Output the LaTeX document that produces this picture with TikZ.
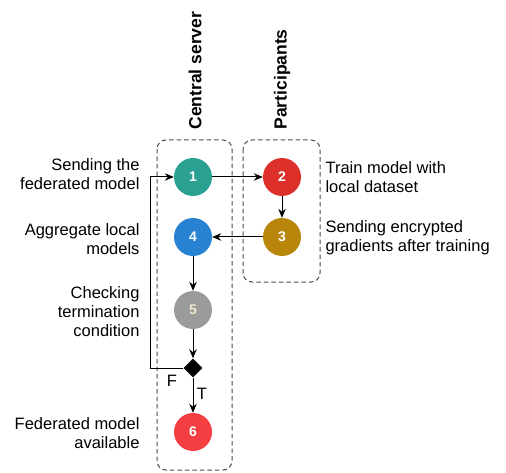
\documentclass[tikz,border=0pt]{standalone}
\usepackage{fontspec}
\setmainfont{Liberation Sans}
\usetikzlibrary{arrows.meta,shapes.geometric}

\definecolor{stepteal}{RGB}{42,160,146}
\definecolor{stepred}{RGB}{221,48,42}
\definecolor{stepgold}{RGB}{184,134,11}
\definecolor{stepblue}{RGB}{40,130,210}
\definecolor{stepgray}{RGB}{155,155,155}
\definecolor{stepbright}{RGB}{245,62,66}

\tikzset{
  stepnode/.style={circle, minimum size=38pt, inner sep=0pt, text=white,
    font=\fontsize{14}{14}\selectfont\bfseries},
  groupbox/.style={dash pattern=on 4.5pt off 3pt, rounded corners=9pt, line width=1pt, black!70},
  flow/.style={line width=1pt, -{Stealth[length=9pt,width=7.5pt]}},
  desc/.style={align=right, font=\fontsize{16.5}{19}\selectfont},
  descr/.style={align=left, font=\fontsize{16.5}{19}\selectfont},
  title/.style={rotate=90, anchor=west, font=\fontsize{17.5}{18}\selectfont\bfseries}
}

\begin{document}
\begin{tikzpicture}[x=1pt, y=-1pt]

    \useasboundingbox (0,0) rectangle (506,473);

    % Draw the two groups
    \draw[groupbox] (157,140) rectangle (232,470);
    \draw[groupbox] (243,140) rectangle (320,282);
    \node[title] (CS) at (195,133) {Central server};
    \node[title] (PA) at (282,133) {Participants};

    % Add the steps
    \node[stepnode, fill=stepteal] (n1) at (193,177) {1};
    \node[stepnode, fill=stepred] (n2) at (282,177) {2};
    \node[stepnode, fill=stepgold] (n3) at (282,237) {3};
    \node[stepnode, fill=stepblue] (n4) at (193,237) {4};
    \node[stepnode, fill=stepgray, text={rgb,255:red,240;green,232;blue,205}] (n5) at (193,310) {5};
    \node[diamond, fill=black, minimum size=19pt, inner sep=0pt] (dec) at (193,368) {};
    \node[stepnode, fill=stepbright] (n6) at (193,432) {6};
    \coordinate (back) at (150,368);

    % Connect the steps
    \draw[flow] (n1) -- (n2);
    \draw[flow] (n2) -- (n3);
    \draw[flow] (n3) -- (n4);
    \draw[flow] (n4) -- (n5);
    \draw[flow] (n5) -- (dec);
    \draw[flow] (dec) -- (n6) node[pos=0.45, right, font=\fontsize{16.5}{17}\selectfont] (T) {T};
    \draw[flow] (dec.west) -- (back) |- (n1.west);
    \node[font=\fontsize{16.5}{17}\selectfont] (F) at (172,381) {F};

    % Describe the steps
    \node[desc, anchor=east] (d1) at (143,174) {Sending the\\federated model};
    \node[desc, anchor=east] (d4) at (143,239) {Aggregate local\\models};
    \node[desc, anchor=east] (d5) at (143,312) {Checking\\termination\\condition};
    \node[desc, anchor=east] (d6) at (143,433) {Federated model\\available};
    \node[descr, anchor=west] (d2) at (322,177) {Train model with\\local dataset};
    \node[descr, anchor=west] (d3) at (322,238) {Sending encrypted\\gradients after training};

\end{tikzpicture}
\end{document}
